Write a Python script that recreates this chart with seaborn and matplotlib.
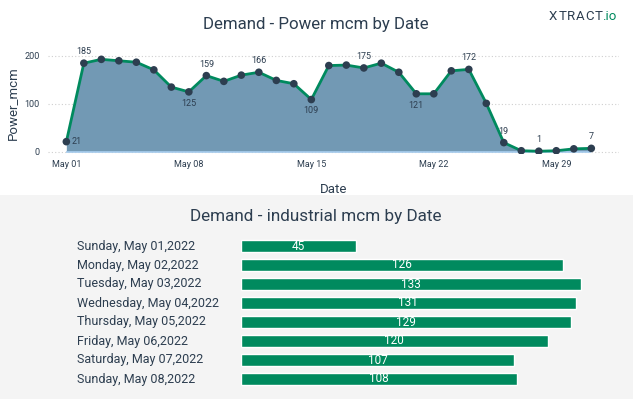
import matplotlib.pyplot as plt
import matplotlib.dates as mdates
import matplotlib.transforms as mtransforms
from matplotlib.patches import Rectangle
import seaborn as sns
import pandas as pd

# Dados - Power mcm por dia (maio 2022)
power_dates = pd.date_range("2022-05-01", "2022-05-31", freq="D")
power_mcm = [21, 185, 193, 190, 187, 171, 135, 125, 159, 147, 160, 166, 149, 142, 109,
             180, 181, 175, 185, 166, 121, 121, 169, 172, 101, 19, 2, 1, 2, 6, 7]
# indices dos pontos com rótulo (e posição do rótulo)
label_idx = [0, 1, 7, 8, 11, 14, 17, 20, 23, 25, 27, 30]
label_pos = ["right", "above", "below", "above", "above", "below", "above", "below",
             "above", "above", "above", "above"]

# Dados - industrial mcm
ind_labels = ["Sunday, May 01,2022", "Monday, May 02,2022", "Tuesday, May 03,2022",
              "Wednesday, May 04,2022", "Thursday, May 05,2022", "Friday, May 06,2022",
              "Saturday, May 07,2022", "Sunday, May 08,2022"]
ind_mcm = [45, 126, 133, 131, 129, 120, 107, 108]

TXT = "#2d3e50"
GREEN = "#008a5e"
FILL = "#7299b4"

sns.set_style("white")
plt.rcParams["font.family"] = ["Roboto", "DejaVu Sans"]

W, H = 633, 399
fig = plt.figure(figsize=(W / 100, H / 100), dpi=100)
fig.patch.set_facecolor("white")

# fundo cinza do painel inferior
fig.add_artist(Rectangle((0, 0), 1, 1 - 194.5 / H, transform=fig.transFigure,
                         facecolor="#f4f4f4", edgecolor="none", zorder=0))

# ---------- Gráfico superior ----------
ylo, yhi = -5, 210
ax = fig.add_axes([48 / W, 1 - 154.1 / H, (619 - 48) / W, (154.1 - 51.2) / H])
ax.set_facecolor("none")
df = pd.DataFrame({"Date": power_dates, "Power_mcm": power_mcm})
ax.fill_between(df["Date"], 0, df["Power_mcm"], color=FILL, linewidth=0, zorder=1)
ax.hlines(0, df["Date"].iloc[0], df["Date"].iloc[-1], color="#a8cdee", linewidth=1.2, zorder=1)
sns.lineplot(data=df, x="Date", y="Power_mcm", color=GREEN, linewidth=2, ax=ax, zorder=2)
sns.scatterplot(data=df, x="Date", y="Power_mcm", color=TXT, s=30, edgecolor="none",
                ax=ax, zorder=3)

for i, pos in zip(label_idx, label_pos):
    x, y = df["Date"].iloc[i], power_mcm[i]
    if pos == "above":
        ax.annotate(str(y), (x, y), xytext=(0, 5), textcoords="offset points",
                    ha="center", va="bottom", fontsize=6.5, color=TXT)
    elif pos == "below":
        ax.annotate(str(y), (x, y), xytext=(0, -5), textcoords="offset points",
                    ha="center", va="top", fontsize=6.5, color=TXT)
    else:
        ax.annotate(str(y), (x, y), xytext=(4, 0), textcoords="offset points",
                    ha="left", va="center", fontsize=6.5, color=TXT)

ax.set_xlim(pd.Timestamp("2022-04-29 22:50"), pd.Timestamp("2022-06-01 14:00"))
ax.set_ylim(ylo, yhi)
ax.set_yticks([0, 100, 200])
ax.set_xticks(pd.to_datetime(["2022-05-01", "2022-05-08", "2022-05-15", "2022-05-22", "2022-05-29"]))
ax.xaxis.set_major_formatter(mdates.DateFormatter("%b %d"))
ax.tick_params(axis="both", length=0, labelsize=6.5, colors=TXT)
ax.tick_params(axis="x", pad=4)
ax.tick_params(axis="y", pad=6)
ax.grid(axis="y", linestyle=(0, (1, 2)), color="#cfcfcf", linewidth=0.8)
ax.set_axisbelow(True)
for s in ax.spines.values():
    s.set_visible(False)
ax.set_xlabel("Date", fontsize=9.5, color=TXT, labelpad=10)
ax.set_ylabel("Power_mcm", fontsize=9.5, color=TXT, labelpad=4)

fig.text(316 / W, 1 - 25 / H, "Demand - Power mcm by Date", ha="center", va="center",
         fontsize=12.2, color=TXT)

# logo XTRACT.io (letras espaçadas)
for k, ch in enumerate("XTRACT"):
    fig.text((553 + k * 9.1) / W, 1 - 17 / H, ch, ha="center", va="center",
             fontsize=9.5, color=TXT)
fig.text(602 / W, 1 - 17 / H, ".io", ha="left", va="center", fontsize=9.5, color=GREEN)

# ---------- Gráfico inferior ----------
bx = fig.add_axes([241 / W, 1 - 388.5 / H, (600 - 241) / W, (388.5 - 236.5) / H])
bx.set_facecolor("none")
dfi = pd.DataFrame({"Day": ind_labels, "industrial_mcm": ind_mcm})
sns.barplot(data=dfi, y="Day", x="industrial_mcm", orient="h", color=GREEN,
            width=0.68, saturation=1, ax=bx)
for c in bx.containers:
    bx.bar_label(c, label_type="center", color="white", fontsize=8.5)
bx.set_xlim(0, (600 - 241) / 2.556)
bx.set_ylim(7.5, -0.5)
bx.set_xticks([])
bx.set_yticks([])
bx.set_xlabel("")
bx.set_ylabel("")
for s in bx.spines.values():
    s.set_visible(False)

trans = mtransforms.blended_transform_factory(fig.transFigure, bx.transData)
for i, lab in enumerate(ind_labels):
    bx.text(77 / W, i, lab, transform=trans, ha="left", va="center", fontsize=9, color=TXT)

fig.text(316 / W, 1 - 217 / H, "Demand - industrial mcm by Date", ha="center", va="center",
         fontsize=12.3, color=TXT)

fig.savefig("out.png", dpi=100)
